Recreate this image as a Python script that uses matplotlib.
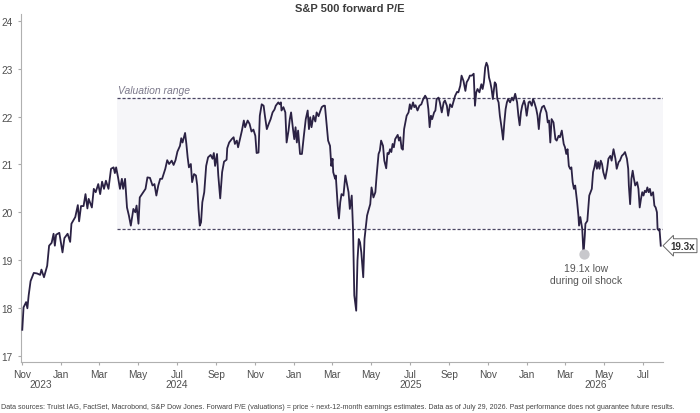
import numpy as np
import pandas as pd
import matplotlib
matplotlib.use("Agg")
import matplotlib.pyplot as plt
import matplotlib.dates as mdates

# S&P 500 forward P/E (days counted from 1 Nov 2023)
start = pd.Timestamp("2023-11-01")

day_offset = [
    1, 3, 7, 9, 11, 14, 19, 24, 29, 31, 35, 40, 43, 47, 50, 52, 54, 59, 64, 67,
    72, 76, 78, 84, 88, 90, 93, 97, 100, 103, 105, 110, 113, 116, 120, 123, 126, 129, 132, 136,
    140, 144, 146, 148,
    151, 154, 157, 159, 162, 165, 168, 171, 175, 178, 180, 183, 185, 191, 194, 197, 201, 205, 208, 211,
    214, 217, 220, 225, 228, 231, 235, 238, 241, 244, 248, 250, 252, 256, 258, 260, 262, 265, 267, 270,
    273, 275, 277, 279, 281, 283, 286, 289, 292, 296, 299, 301, 303, 306, 308, 311, 314, 317,
    321, 322, 325, 329, 332, 334, 337, 339, 342, 345, 348, 350, 354, 357, 360, 363, 366, 368, 371, 373,
    376, 379, 381, 384, 387, 390, 393, 396, 398, 402, 404, 406, 407, 410, 413, 415, 418, 420, 422, 425,
    427, 429, 431, 433, 436, 439, 442, 445, 448, 450, 452, 454, 457, 460, 462, 465, 467, 470, 473, 475,
    478, 480, 483,
    485, 487, 488, 491, 492, 495, 497, 499, 501, 504, 507, 509, 512, 514, 517, 519, 521, 524, 526, 528,
    530, 532, 535, 537, 541, 543, 546, 548, 551, 554, 556, 559, 561, 563, 566, 568, 571, 573, 575, 577,
    579, 581, 583, 585, 589, 591, 593, 595, 597, 599, 601, 603, 606, 608, 610, 613, 615, 617, 620, 623,
    626, 629, 632, 635, 637,
    639, 641, 643, 646, 648, 650, 653, 655, 658, 661, 663, 666, 668, 671, 674, 676, 679, 682, 684, 687,
    689, 692, 695, 697, 700, 702, 705, 708, 710, 712, 714, 717, 720, 722, 724, 726, 728, 730, 732, 734,
    736, 738, 741, 743, 745, 747, 749, 752, 754, 756, 758, 760, 762, 765, 768, 770, 773, 776, 778, 780,
    782, 784, 787, 789, 791, 794, 796,
    799, 801, 803, 806, 808, 810, 812, 815, 818, 822, 824, 826, 828, 830, 833, 836, 838, 841, 843, 846,
    849, 851, 853, 855, 857, 859, 861, 863, 865, 867, 870, 872, 873, 875, 876, 878, 880, 882, 883, 886,
    889, 893, 895, 897, 899, 901, 903, 905, 907, 909, 911, 914, 917, 919, 922, 924, 927, 930, 932, 935,
    937, 940, 943, 945, 948, 950, 951, 953, 955, 957, 959, 961, 964, 966, 968, 970, 972, 974, 976, 978,
    980, 982, 984, 986, 989, 991, 993, 995, 996, 998, 999, 1001,
]

pe = [
    17.54, 18.01, 18.12, 17.99, 18.26, 18.56, 18.73, 18.72, 18.69, 18.80, 18.64, 18.88, 19.30, 19.36, 19.55, 19.30, 19.53, 19.57, 19.16, 19.46,
    19.55, 19.38, 19.76, 19.90, 20.15, 19.81, 20.13, 20.13, 20.38, 20.08, 20.28, 20.10, 20.49, 20.42, 20.59, 20.38, 20.64, 20.49, 20.66, 20.49,
    20.91, 20.94, 20.82, 20.94,
    20.73, 20.49, 20.70, 20.49, 20.70, 20.10, 19.93, 19.72, 20.07, 20.00, 20.14, 19.76, 20.31, 20.43, 20.49, 20.73, 20.72, 20.56, 20.59, 20.35,
    20.56, 20.70, 20.70, 20.91, 21.09, 21.01, 21.08, 20.99, 21.09, 21.27, 21.39, 21.55, 21.46, 21.66, 21.43, 21.15, 20.94, 21.01, 20.63, 20.80,
    20.77, 20.56, 20.07, 19.72, 19.79, 20.21, 20.42, 20.97, 21.15, 21.20, 21.12, 21.24, 20.97, 21.22, 20.77, 20.29, 20.84, 21.06,
    21.10, 21.34, 21.46, 21.53, 21.57, 21.43, 21.50, 21.36, 21.53, 21.71, 21.92, 21.78, 21.92, 21.85, 21.69, 21.73, 21.60, 21.24, 21.25, 22.02,
    22.26, 22.23, 22.02, 21.74, 21.85, 21.95, 22.09, 22.15, 22.23, 22.30, 22.26, 22.30, 22.13, 22.20, 22.09, 21.46, 21.71, 21.95, 22.09, 21.74,
    21.53, 21.78, 21.46, 21.71, 21.22, 21.22, 21.60, 21.95, 22.13, 21.74, 21.99, 21.78, 22.02, 21.90, 22.09, 22.01, 22.09, 22.20, 22.23, 22.23,
    21.80, 21.50, 21.39,
    20.97, 21.12, 20.84, 20.70, 20.77, 20.14, 19.87, 20.21, 20.38, 20.35, 20.77, 20.63, 20.42, 20.07, 20.35, 19.65, 18.26, 17.94, 18.99, 19.44,
    19.37, 19.16, 18.64, 19.44, 19.93, 20.03, 20.17, 20.52, 20.31, 20.42, 20.77, 21.22, 21.29, 21.50, 21.39, 21.08, 20.92, 21.24, 21.22, 21.32,
    21.26, 21.43, 21.36, 21.53, 21.62, 21.50, 21.57, 21.34, 21.31, 21.74, 21.88, 22.02, 22.09, 22.26, 22.16, 22.30, 22.20, 22.24, 22.13, 22.23,
    22.26, 22.37, 22.44, 22.37, 22.16,
    21.78, 22.02, 21.95, 22.09, 22.13, 22.37, 22.40, 22.30, 22.09, 22.30, 22.34, 22.23, 22.02, 22.26, 22.20, 22.30, 22.44, 22.52, 22.51, 22.65,
    22.86, 22.75, 22.54, 22.72, 22.79, 22.86, 22.86, 22.90, 22.23, 22.51, 22.58, 22.51, 22.68, 22.58, 22.72, 23.03, 23.13, 23.06, 22.82, 22.72,
    22.58, 22.37, 22.72, 22.68, 22.37, 22.30, 22.02, 21.74, 21.52, 21.88, 22.16, 22.30, 22.37, 22.30, 22.40, 22.34, 22.48, 22.30, 22.02, 21.82,
    22.09, 22.23, 22.34, 22.23, 22.02, 22.30, 22.32,
    22.23, 22.37, 22.30, 22.16, 22.02, 21.74, 22.06, 22.20, 22.23, 22.09, 21.88, 21.92, 21.46, 21.95, 21.88, 21.53, 21.50, 21.60, 21.57, 21.71,
    21.43, 21.36, 21.22, 21.32, 20.97, 20.91, 20.94, 20.63, 20.49, 20.56, 20.21, 19.93, 19.72, 19.90, 19.82, 19.65, 19.12, 19.51, 19.76, 19.82,
    20.35, 20.49, 20.84, 20.94, 21.08, 20.91, 21.05, 20.91, 21.08, 21.01, 20.84, 20.70, 20.91, 21.12, 21.18, 21.08, 21.32, 21.12, 20.91, 21.05,
    21.08, 21.18, 21.22, 21.26, 21.12, 20.91, 20.56, 20.17, 20.70, 20.87, 20.70, 20.56, 20.63, 20.49, 20.10, 20.28, 20.42, 20.35, 20.45, 20.42,
    20.52, 20.42, 20.49, 20.35, 20.42, 20.14, 20.10, 20.00, 19.65, 19.62, 19.65, 19.30,
]

range_low = 19.65
range_high = 22.40
range_start = pd.Timestamp("2024-03-29")
x_left = pd.Timestamp("2023-10-31")
x_right = pd.Timestamp("2026-08-02")
years = [2023, 2024, 2025, 2026]

dates = start + pd.to_timedelta(day_offset, unit="D")
pe = np.array(pe)

plt.rcParams['font.family'] = ['Liberation Sans', 'DejaVu Sans']

fig = plt.figure(figsize=(7, 4.14), dpi=100)
ax = fig.add_axes([0.030, 0.1225, 0.9176, 0.8413])

# valuation range band
ax.fill_between([range_start, x_right], range_low, range_high, color='#f6f6f9', lw=0, zorder=0)
ax.hlines([range_low, range_high], range_start, x_right, colors='#4b4663',
          linestyles=(0, (2.5, 1.5)), lw=0.9, zorder=1)
ax.annotate('Valuation range', xy=(range_start, range_high), xytext=(1, 3),
            textcoords='offset pixels', ha='left', va='bottom', style='italic',
            fontsize=7.5, color='#7d7a8c')

ax.plot(dates, pe, color='#2b2244', lw=1.3, zorder=3)

# low point callout (2026 oil shock)
late = np.asarray(dates >= pd.Timestamp('2026-01-01'))
i = int(np.flatnonzero(late)[np.argmin(pe[late])])
ax.scatter([dates[i]], [pe[i]], s=55, color='#c8c8cc', zorder=4, lw=0)
ax.annotate(f'{pe[i]:.1f}x low\nduring oil shock', xy=(dates[i], pe[i]), xytext=(3, -9),
            textcoords='offset pixels', ha='center', va='top', fontsize=7.5,
            color='#555555', linespacing=1.2)

# last value label
ax.annotate(f'{pe[-1]:.1f}x', xy=(dates[-1], pe[-1]), xytext=(22, 0),
            textcoords='offset pixels', ha='center', va='center', fontsize=7,
            fontweight='bold', color='#333333', annotation_clip=False,
            bbox=dict(boxstyle='larrow,pad=0.2', fc='white', ec='#666666', lw=0.7))

ax.set_xlim(x_left, x_right)
ax.set_ylim(16.86, 24.15)
ax.set_yticks(range(17, 25))
ax.xaxis.set_major_locator(mdates.MonthLocator(bymonth=[1, 3, 5, 7, 9, 11]))
ax.xaxis.set_major_formatter(mdates.DateFormatter('%b'))

for side in ['top', 'right']:
    ax.spines[side].set_visible(False)
for side in ['left', 'bottom']:
    ax.spines[side].set_color('#b0b0b0')
    ax.spines[side].set_linewidth(0.8)
ax.tick_params(axis='both', direction='out', length=2.5, width=0.8, color='#aaaaaa',
               labelsize=7.3, labelcolor='#505050')
ax.tick_params(axis='y', pad=3.5)
ax.tick_params(axis='x', pad=2.5)

# year labels centred under the visible part of each year
for yr in years:
    a = max(pd.Timestamp(f'{yr}-01-01'), x_left)
    b = min(pd.Timestamp(f'{yr}-12-31'), x_right)
    mid = a + (b - a) / 2
    ax.annotate(str(yr), xy=(mid, 0), xycoords=('data', 'axes fraction'),
                xytext=(0, -22), textcoords='offset pixels', ha='center', va='center',
                fontsize=7.3, color='#505050', annotation_clip=False)

fig.text(0.5, 1 - 9 / 414, 'S&P 500 forward P/E', ha='center', va='center',
         fontsize=8, fontweight='bold', color='#3c3c3c')
fig.text(0.002, 1 - 408 / 414,
         'Data sources: Truist IAG, FactSet, Macrobond, S&P Dow Jones. Forward P/E (valuations) = '
         'price \u00f7 next-12-month earnings estimates. Data as of July 29, 2026. '
         'Past performance does not guarantee future results.',
         ha='left', va='center', fontsize=5.1, color='#444444')

fig.savefig('out.png', dpi=100)
